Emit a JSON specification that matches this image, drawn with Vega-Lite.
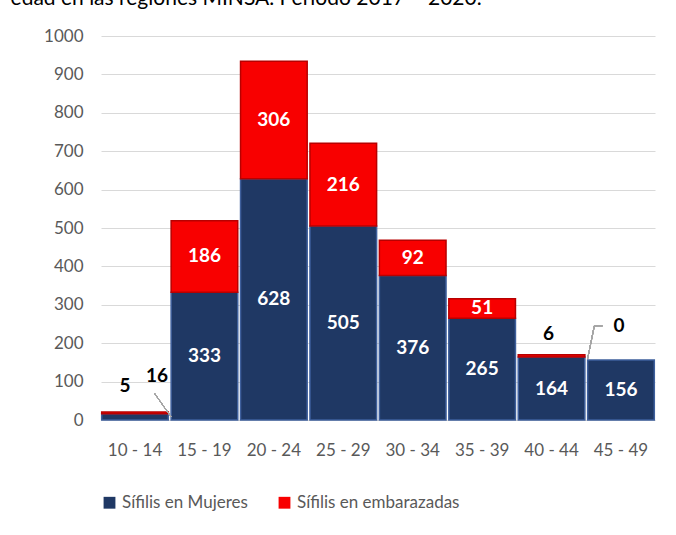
{
  "$schema": "https://vega.github.io/schema/vega-lite/v6.json",
  "width": 676,
  "height": 535,
  "autosize": {"type": "fit", "contains": "padding"},
  "padding": {"left": 10, "top": -12, "right": 21, "bottom": 24},
  "background": "white",
  "config": {"font": "Lato", "view": {"stroke": null}},
  "title": {"text": "edad en las regiones MINSA. Periodo 2017 – 2020.", "anchor": "start", "fontSize": 21, "fontWeight": 400, "color": "black", "dx": -33, "offset": 18},
  "data": {"values": [
    {"grupo": "10 - 14", "serie": "Sífilis en Mujeres", "valor": 16},
    {"grupo": "10 - 14", "serie": "Sífilis en embarazadas", "valor": 5},
    {"grupo": "15 - 19", "serie": "Sífilis en Mujeres", "valor": 333},
    {"grupo": "15 - 19", "serie": "Sífilis en embarazadas", "valor": 186},
    {"grupo": "20 - 24", "serie": "Sífilis en Mujeres", "valor": 628},
    {"grupo": "20 - 24", "serie": "Sífilis en embarazadas", "valor": 306},
    {"grupo": "25 - 29", "serie": "Sífilis en Mujeres", "valor": 505},
    {"grupo": "25 - 29", "serie": "Sífilis en embarazadas", "valor": 216},
    {"grupo": "30 - 34", "serie": "Sífilis en Mujeres", "valor": 376},
    {"grupo": "30 - 34", "serie": "Sífilis en embarazadas", "valor": 92},
    {"grupo": "35 - 39", "serie": "Sífilis en Mujeres", "valor": 265},
    {"grupo": "35 - 39", "serie": "Sífilis en embarazadas", "valor": 51},
    {"grupo": "40 - 44", "serie": "Sífilis en Mujeres", "valor": 164},
    {"grupo": "40 - 44", "serie": "Sífilis en embarazadas", "valor": 6},
    {"grupo": "45 - 49", "serie": "Sífilis en Mujeres", "valor": 156},
    {"grupo": "45 - 49", "serie": "Sífilis en embarazadas", "valor": 0}
  ]},
  "transform": [
    {"stack": "valor", "groupby": ["grupo"], "sort": [{"field": "serie", "order": "ascending"}], "as": ["v0", "v1"]}
  ],
  "encoding": {
    "x": {"field": "grupo", "type": "nominal", "title": null,
      "scale": {"paddingInner": 0.04, "paddingOuter": 0.01},
      "axis": {"labelAngle": 0, "labelFontSize": 17, "labelColor": "#595959", "ticks": false, "domain": false, "labelPadding": 22, "labelOverlap": false, "labelLimit": 0}}
  },
  "layer": [
    {
      "transform": [{"filter": "datum.valor > 0"}],
      "mark": {"type": "bar", "strokeWidth": 1.5},
      "encoding": {
        "y": {"field": "v0", "type": "quantitative", "title": null,
          "scale": {"domain": [0, 1000]},
          "axis": {"values": [0, 100, 200, 300, 400, 500, 600, 700, 800, 900, 1000], "tickCount": 12, "format": "d", "labelOverlap": false, "labelFontSize": 17, "labelColor": "#595959", "ticks": false, "domain": false, "gridColor": "#D9D9D9", "gridWidth": 1.2, "labelPadding": 18}},
        "y2": {"field": "v1"},
        "color": {"field": "serie", "type": "nominal", "title": null,
          "scale": {"domain": ["Sífilis en Mujeres", "Sífilis en embarazadas"], "range": ["#1F3864", "#F80000"]},
          "legend": {"orient": "bottom", "direction": "horizontal", "symbolType": "square", "symbolSize": 140, "symbolStrokeWidth": 0, "labelFontSize": 17, "labelColor": "#595959", "columnPadding": 28, "labelLimit": 0, "offset": 36}},
        "stroke": {"field": "serie", "type": "nominal", "legend": null,
          "scale": {"domain": ["Sífilis en Mujeres", "Sífilis en embarazadas"], "range": ["#3E5F9C", "#B80000"]}}
      }
    },
    {
      "transform": [
        {"filter": "datum.valor >= 40"},
        {"fold": ["v0", "v1"], "as": ["k", "pos"]}
      ],
      "mark": {"type": "text", "color": "white", "fontWeight": "bold", "fontSize": 19, "baseline": "middle"},
      "encoding": {
        "y": {"aggregate": "mean", "field": "pos", "type": "quantitative"},
        "detail": {"field": "serie"},
        "text": {"aggregate": "max", "field": "valor", "type": "quantitative"}
      }
    },
    {
      "transform": [{"filter": "datum.grupo == '10 - 14' && datum.serie == 'Sífilis en embarazadas'"}],
      "mark": {"type": "text", "color": "black", "fontWeight": "bold", "fontSize": 19, "baseline": "middle", "dx": -10, "dy": -26},
      "encoding": {"y": {"field": "v1", "type": "quantitative"}, "text": {"field": "valor"}}
    },
    {
      "transform": [{"filter": "datum.grupo == '10 - 14' && datum.serie == 'Sífilis en Mujeres'"}],
      "mark": {"type": "text", "color": "black", "fontWeight": "bold", "fontSize": 19, "baseline": "middle", "dx": 22, "dy": -38},
      "encoding": {"y": {"field": "v1", "type": "quantitative"}, "text": {"field": "valor"}}
    },
    {
      "transform": [{"filter": "datum.grupo == '40 - 44' && datum.serie == 'Sífilis en embarazadas'"}],
      "mark": {"type": "text", "color": "black", "fontWeight": "bold", "fontSize": 19, "baseline": "middle", "dx": -3, "dy": -21},
      "encoding": {"y": {"field": "v1", "type": "quantitative"}, "text": {"field": "valor"}}
    },
    {
      "transform": [{"filter": "datum.grupo == '45 - 49' && datum.serie == 'Sífilis en embarazadas'"}],
      "mark": {"type": "text", "color": "black", "fontWeight": "bold", "fontSize": 19, "baseline": "middle", "dx": -2, "dy": -34},
      "encoding": {"y": {"field": "v1", "type": "quantitative"}, "text": {"field": "valor"}}
    },
    {
      "mark": {"type": "rule", "color": "#A6A6A6", "strokeWidth": 1},
      "encoding": {
        "x": {"datum": "10 - 14", "type": "nominal", "bandPosition": 0.79},
        "x2": {"datum": "15 - 19", "bandPosition": 0},
        "y": {"datum": 70, "type": "quantitative"},
        "y2": {"datum": 8}
      }
    },
    {
      "mark": {"type": "rule", "color": "#A6A6A6", "strokeWidth": 1},
      "encoding": {
        "x": {"datum": "45 - 49", "type": "nominal", "bandPosition": 0.22},
        "x2": {"datum": "45 - 49", "bandPosition": 0.1},
        "y": {"datum": 245, "type": "quantitative"},
        "y2": {"datum": 245}
      }
    },
    {
      "mark": {"type": "rule", "color": "#A6A6A6", "strokeWidth": 1},
      "encoding": {
        "x": {"datum": "45 - 49", "type": "nominal", "bandPosition": 0.1},
        "x2": {"datum": "45 - 49", "bandPosition": 0},
        "y": {"datum": 245, "type": "quantitative"},
        "y2": {"datum": 160}
      }
    }
  ]
}
